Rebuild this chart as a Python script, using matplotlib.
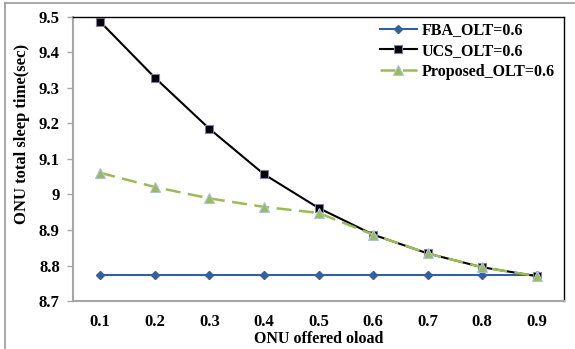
import matplotlib
matplotlib.use('Agg')
import matplotlib.pyplot as plt
from matplotlib.lines import Line2D

plt.rcParams['font.family'] = 'Liberation Serif'
plt.rcParams['font.weight'] = 'bold'
plt.rcParams['axes.labelweight'] = 'bold'

load = [0.1, 0.2, 0.3, 0.4, 0.5, 0.6, 0.7, 0.8, 0.9]
fba = [8.773, 8.773, 8.773, 8.773, 8.773, 8.773, 8.773, 8.773, 8.773]
ucs = [9.486, 9.329, 9.185, 9.057, 8.962, 8.887, 8.834, 8.795, 8.770]
proposed = [9.061, 9.021, 8.989, 8.965, 8.948, 8.887, 8.834, 8.795, 8.770]

y_ticks = [8.7, 8.8, 8.9, 9.0, 9.1, 9.2, 9.3, 9.4, 9.5]
y_labels = ['8.7', '8.8', '8.9', '9', '9.1', '9.2', '9.3', '9.4', '9.5']
x_labels = ['0.1', '0.2', '0.3', '0.4', '0.5', '0.6', '0.7', '0.8', '0.9']

fig = plt.figure(figsize=(5.75, 3.49), dpi=100)
ax = fig.add_axes([0.127, 0.1375, 0.854, 0.814])

ax.plot(load, fba, color='#34609E', linewidth=1.5, marker='D', markersize=4,
        markerfacecolor='#34609E', markeredgecolor='#34609E', label='FBA_OLT=0.6')
ax.plot(load, ucs, color='black', linewidth=1.5, marker='s', markersize=6,
        markerfacecolor='black', markeredgecolor='#8A7AA8', markeredgewidth=0.8,
        label='UCS_OLT=0.6')
ax.plot(load, proposed, color='#9BBB59', linewidth=1.8, linestyle=(0, (6, 3)),
        marker='^', markersize=7, markerfacecolor='#9BBB59',
        markeredgecolor='#A9C4DE', markeredgewidth=0.8, label='Proposed_OLT=0.6')

ax.set_xlim(0.05, 0.95)
ax.set_ylim(8.7, 9.5)
ax.set_xticks(load)
ax.set_xticklabels(x_labels)
ax.set_yticks(y_ticks)
ax.set_yticklabels(y_labels)
ax.tick_params(axis='both', labelsize=12)
ax.tick_params(axis='x', length=0, pad=9)
ax.tick_params(axis='y', direction='out', length=4.5, width=1, color='#A6A6A6', pad=5)

for side in ['left', 'bottom']:
    ax.spines[side].set_color('#A6A6A6')
    ax.spines[side].set_linewidth(1.5)
for side in ['top', 'right']:
    ax.spines[side].set_color('black')
    ax.spines[side].set_linewidth(1)

ax.set_xlabel('ONU offered oload', fontsize=11.5, fontweight='bold', labelpad=1)
fig.text(0.038, 0.615, 'ONU total sleep time(sec)', rotation=90, fontsize=12,
         fontweight='bold', ha='center', va='center')

ax.legend(loc='upper right', bbox_to_anchor=(1.0, 1.015), frameon=False,
          fontsize=11.5, handlelength=2.3, handletextpad=0.3, labelspacing=0.3,
          borderaxespad=0.2)

# light frame along the top and left edges of the image
fig.add_artist(Line2D([4.5 / 575, 4.5 / 575], [0, 1 - 3 / 349], color='#9A9A9A',
                      linewidth=1.2, transform=fig.transFigure))
fig.add_artist(Line2D([4.5 / 575, 1], [1 - 3 / 349, 1 - 3 / 349], color='#9A9A9A',
                      linewidth=1.2, transform=fig.transFigure))

plt.savefig('out.png', dpi=100)
